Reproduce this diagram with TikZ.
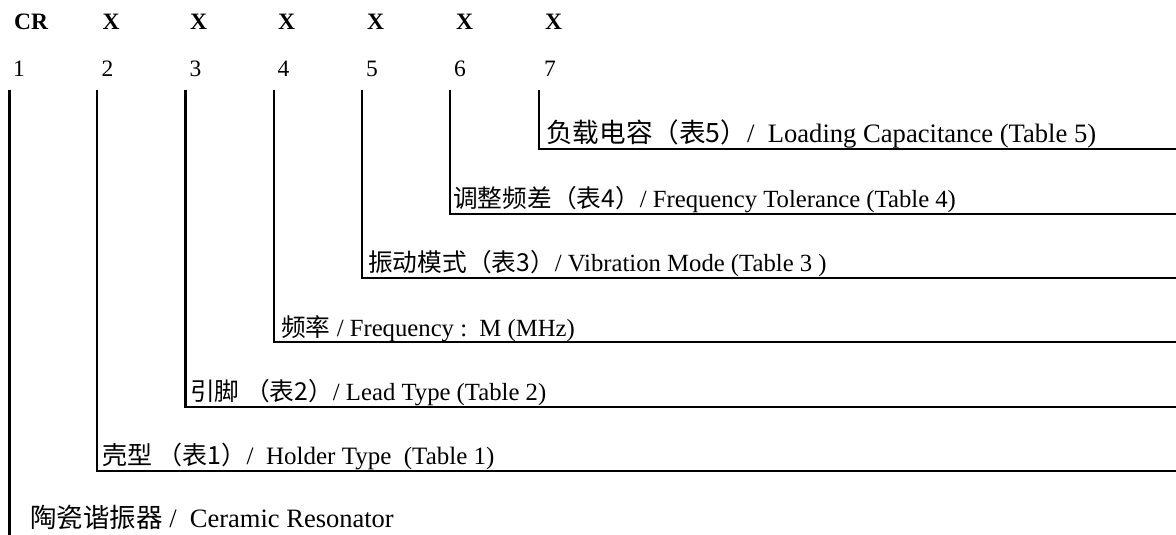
\documentclass[tikz,border=0pt]{standalone}
\usepackage{fontspec}
\setmainfont{Liberation Serif}
\newfontfamily\cjk{Noto Sans CJK SC}
\begin{document}
\begin{tikzpicture}[x=1pt,y=-1pt,
  lab/.style={anchor=base west, inner sep=0pt, font=\fontsize{#1}{#1}\selectfont},
  lab/.default=24.7,
  head/.style={anchor=base west, inner sep=0pt, font=\bfseries\fontsize{23.5}{23.5}\selectfont},
  num/.style={anchor=base west, inner sep=0pt, font=\fontsize{23.5}{23.5}\selectfont},
  wire/.style={line width=2.6pt}]
\useasboundingbox (0,0) rectangle (1176,535);
% header codes
\node[head] (h1) at (14,30) {CR};
\node[head] (h2) at (102.5,30) {X};
\node[head] (h3) at (190,30) {X};
\node[head] (h4) at (278,30) {X};
\node[head] (h5) at (367,30) {X};
\node[head] (h6) at (456,30) {X};
\node[head] (h7) at (545,30) {X};
% position numbers
\node[num] (n1) at (13,77) {1};
\node[num] (n2) at (101.5,77) {2};
\node[num] (n3) at (189.5,77) {3};
\node[num] (n4) at (277.5,77) {4};
\node[num] (n5) at (366,77) {5};
\node[num] (n6) at (454,77) {6};
\node[num] (n7) at (544,77) {7};
% line tops
\coordinate (t1) at (9.5,90);
\coordinate (t2) at (97,90);
\coordinate (t3) at (185.5,90);
\coordinate (t4) at (274,90);
\coordinate (t5) at (362,90);
\coordinate (t6) at (450,90);
\coordinate (t7) at (539,90);
% line ends
\coordinate (e1) at (9.5,535);
\coordinate (e2) at (1176,471);
\coordinate (e3) at (1176,407);
\coordinate (e4) at (1176,342);
\coordinate (e5) at (1176,278);
\coordinate (e6) at (1176,214);
\coordinate (e7) at (1176,149);
% labels
\node[lab=26.6] (l7) at (546,142) {{\cjk 负载电容（表5）}/\ \ Loading Capacitance (Table 5)};
\node[lab] (l6) at (453,207) {{\cjk 调整频差（表4）}/ Frequency Tolerance (Table 4)};
\node[lab] (l5) at (368,271) {{\cjk 振动模式（表3）}/ Vibration Mode (Table 3 )};
\node[lab] (l4) at (281,336) {{\cjk 频率} / Frequency :\ \ M (MHz)};
\node[lab] (l3) at (190,400) {{\cjk 引脚 （表2）}/ Lead Type (Table 2)};
\node[lab=25] (l2) at (102,464) {{\cjk 壳型 （表1）}/\ \ Holder Type\ \ (Table 1)};
\node[lab=26.5] (l1) at (30,527) {{\cjk 陶瓷谐振器} /\ \ Ceramic Resonator};
% connectors
\draw[wire] (t1) -- (e1);
\draw[wire] (t2) |- (e2);
\draw[wire] (t3) |- (e3);
\draw[wire] (t4) |- (e4);
\draw[wire] (t5) |- (e5);
\draw[wire] (t6) |- (e6);
\draw[wire] (t7) |- (e7);
\end{tikzpicture}
\end{document}
